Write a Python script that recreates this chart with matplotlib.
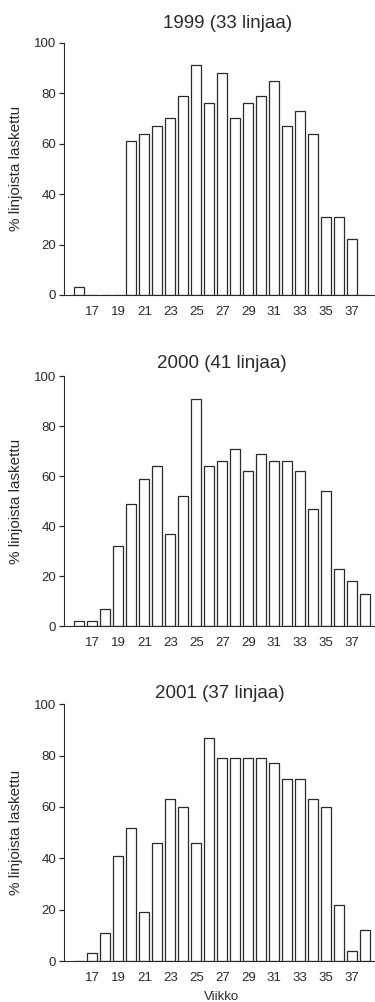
import matplotlib.pyplot as plt
import numpy as np

plt.rcParams["font.family"] = ["Liberation Sans", "DejaVu Sans"]

# weeks 16..38
weeks = np.arange(16, 39)

# % of lines counted, per week
pct_1999 = [3, 0, 0, 0, 61, 64, 67, 70, 79, 91, 76, 88, 70, 76, 79, 85, 67, 73, 64, 31, 31, 22, 0]
pct_2000 = [2, 2, 7, 32, 49, 59, 64, 37, 52, 91, 64, 66, 71, 62, 69, 66, 66, 62, 47, 54, 23, 18, 13]
pct_2001 = [0, 3, 11, 41, 52, 19, 46, 63, 60, 46, 87, 79, 79, 79, 79, 77, 71, 71, 63, 60, 22, 4, 12]

titles = ["1999 (33 linjaa)", "2000 (41 linjaa)", "2001 (37 linjaa)"]
tick_weeks = np.arange(17, 38, 2)

ink = "#2a2a2a"

fig = plt.figure(figsize=(3.75, 10.02), dpi=100)

# axes boxes in figure fraction: left, bottom, width, height
boxes = [
    [0.170, 0.7056, 0.830, 0.2518],
    [0.170, 0.3752, 0.830, 0.2495],
    [0.170, 0.0409, 0.830, 0.2562],
]
# title centres (figure fraction)
title_xy = [(228 / 375, 1 - 23 / 1002), (222 / 375, 1 - 363 / 1002), (220 / 375, 1 - 693 / 1002)]

for box, vals, title, (tx, ty) in zip(boxes, [pct_1999, pct_2000, pct_2001], titles, title_xy):
    ax = fig.add_axes(box)
    ax.bar(weeks, vals, width=0.76, color="white", edgecolor=ink, linewidth=0.9)
    ax.set_xlim(14.8, 38.75)
    ax.set_ylim(0, 100)
    ax.set_yticks(np.arange(0, 101, 20))
    ax.set_xticks(tick_weeks)
    ax.spines["top"].set_visible(False)
    ax.spines["right"].set_visible(False)
    ax.spines["left"].set_color(ink)
    ax.spines["bottom"].set_color(ink)
    ax.tick_params(axis="y", length=3.5, width=0.9, color=ink, labelsize=9.5,
                   labelcolor=ink, pad=2)
    ax.tick_params(axis="x", length=0, labelsize=9.5, labelcolor=ink, pad=8)
    ax.set_ylabel("% linjoista laskettu", fontsize=11, color=ink)
    ax.yaxis.set_label_coords(-0.13, 0.5)
    ax.patch.set_alpha(0)
    fig.text(tx, ty, title, ha="center", va="center", fontsize=13.5, color=ink)

fig.text(222 / 375, 1 - 997 / 1002, "Viikko", ha="center", va="center",
         fontsize=9.5, color=ink)

fig.savefig("out.png", dpi=100)
